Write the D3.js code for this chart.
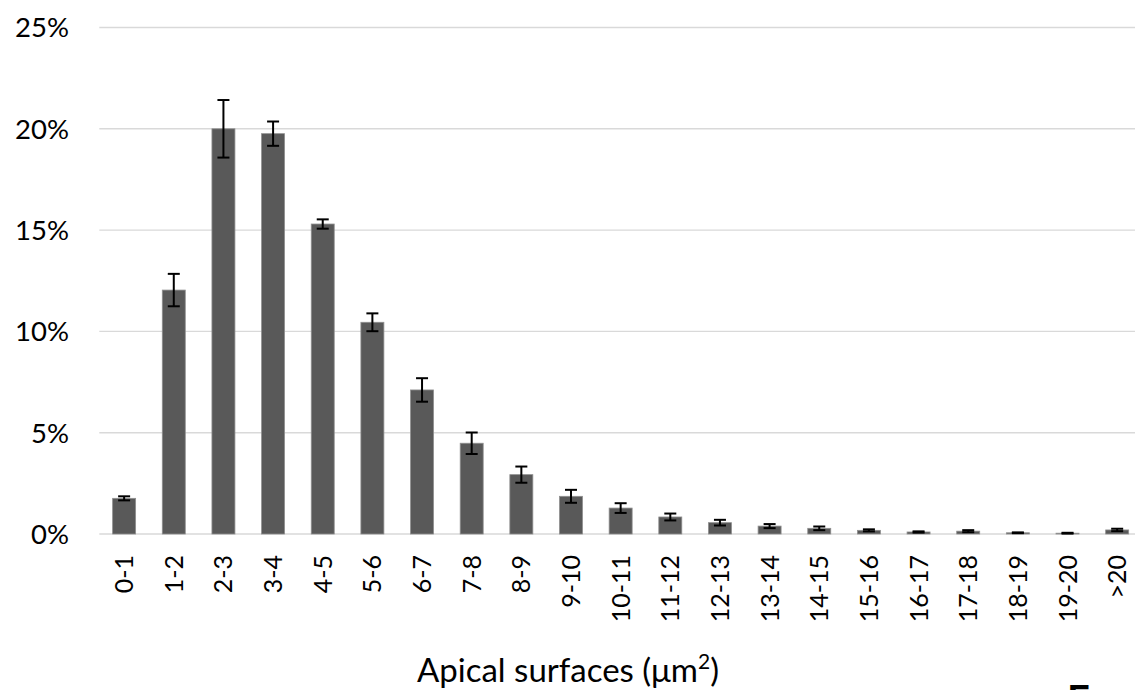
<!DOCTYPE html>
<html>
<head>
<meta charset="utf-8">
<script src="https://cdn.jsdelivr.net/npm/d3@7"></script>
<style>
  html, body { margin: 0; padding: 0; background: #fff; overflow: hidden; }
  svg { display: block; }
  text { font-family: Lato, "Open Sans", sans-serif; fill: #000; }
</style>
</head>
<body>
<svg id="chart" width="1135" height="690"></svg>
<script>
const categories = ["0-1","1-2","2-3","3-4","4-5","5-6","6-7","7-8","8-9","9-10","10-11",
  "11-12","12-13","13-14","14-15","15-16","16-17","17-18","18-19","19-20",">20"];
const values = [1.76, 12.04, 20.0, 19.76, 15.30, 10.45, 7.11, 4.48, 2.93, 1.86, 1.28,
  0.84, 0.56, 0.39, 0.28, 0.18, 0.10, 0.14, 0.06, 0.04, 0.20];
const errors = [0.10, 0.80, 1.42, 0.60, 0.23, 0.44, 0.58, 0.53, 0.40, 0.32, 0.24,
  0.17, 0.14, 0.10, 0.09, 0.05, 0.03, 0.05, 0.02, 0.02, 0.06];
const yTicks = [0, 5, 10, 15, 20, 25];
const xTitle = "Apical surfaces (μm";
const panelLetter = "E";

const svg = d3.select("#chart");
const plotLeft = 99.3, plotRight = 1142, plotBottom = 534, plotTop = 27.5;

const x = d3.scaleBand().domain(categories).range([plotLeft, plotRight])
  .paddingInner(0.537).paddingOuter(0.2685);
const y = d3.scaleLinear().domain([0, 25]).range([plotBottom, plotTop]);

// gridlines
svg.append("g").selectAll("line").data(yTicks).join("line")
  .attr("x1", plotLeft).attr("x2", plotRight)
  .attr("y1", d => y(d)).attr("y2", d => y(d))
  .attr("stroke", "#d9d9d9").attr("stroke-width", 1.4);

// y labels
svg.append("g").selectAll("text").data(yTicks).join("text")
  .attr("x", 69).attr("y", d => y(d)).attr("dy", "0.36em")
  .attr("text-anchor", "end").attr("font-size", 27.5)
  .text(d => d + "%");

// bars
svg.append("g").selectAll("rect").data(categories).join("rect")
  .attr("x", d => x(d)).attr("width", x.bandwidth())
  .attr("y", (d, i) => y(values[i]))
  .attr("height", (d, i) => plotBottom - y(values[i]))
  .attr("fill", "#595959").attr("stroke", "#8f8f8f").attr("stroke-width", 0.8);

// error bars
const eb = svg.append("g").attr("stroke", "#000").attr("stroke-width", 2);
categories.forEach((c, i) => {
  const cx = x(c) + x.bandwidth() / 2;
  const y1 = y(values[i] + errors[i]), y2 = y(Math.max(0, values[i] - errors[i]));
  eb.append("line").attr("x1", cx).attr("x2", cx).attr("y1", y1).attr("y2", y2);
  eb.append("line").attr("x1", cx - 6).attr("x2", cx + 6).attr("y1", y1).attr("y2", y1);
  eb.append("line").attr("x1", cx - 6).attr("x2", cx + 6).attr("y1", y2).attr("y2", y2);
});

// x labels
svg.append("g").selectAll("text").data(categories).join("text")
  .attr("transform", d => `translate(${x(d) + x.bandwidth() / 2 + 9},555) rotate(-90)`)
  .attr("text-anchor", "end").attr("font-size", 25)
  .text(d => d);

// x title
const t = svg.append("text").attr("x", 568).attr("y", 682)
  .attr("text-anchor", "middle").attr("font-size", 33);
t.append("tspan").text(xTitle);
t.append("tspan").attr("font-size", 21).attr("dy", -13).text("2");
t.append("tspan").attr("dy", 13).text(")");

// panel letter (cut off at bottom, as in the reference)
svg.append("text").attr("x", 1067).attr("y", 714)
  .attr("font-size", 40).attr("font-weight", "bold").text(panelLetter);
</script>
</body>
</html>
